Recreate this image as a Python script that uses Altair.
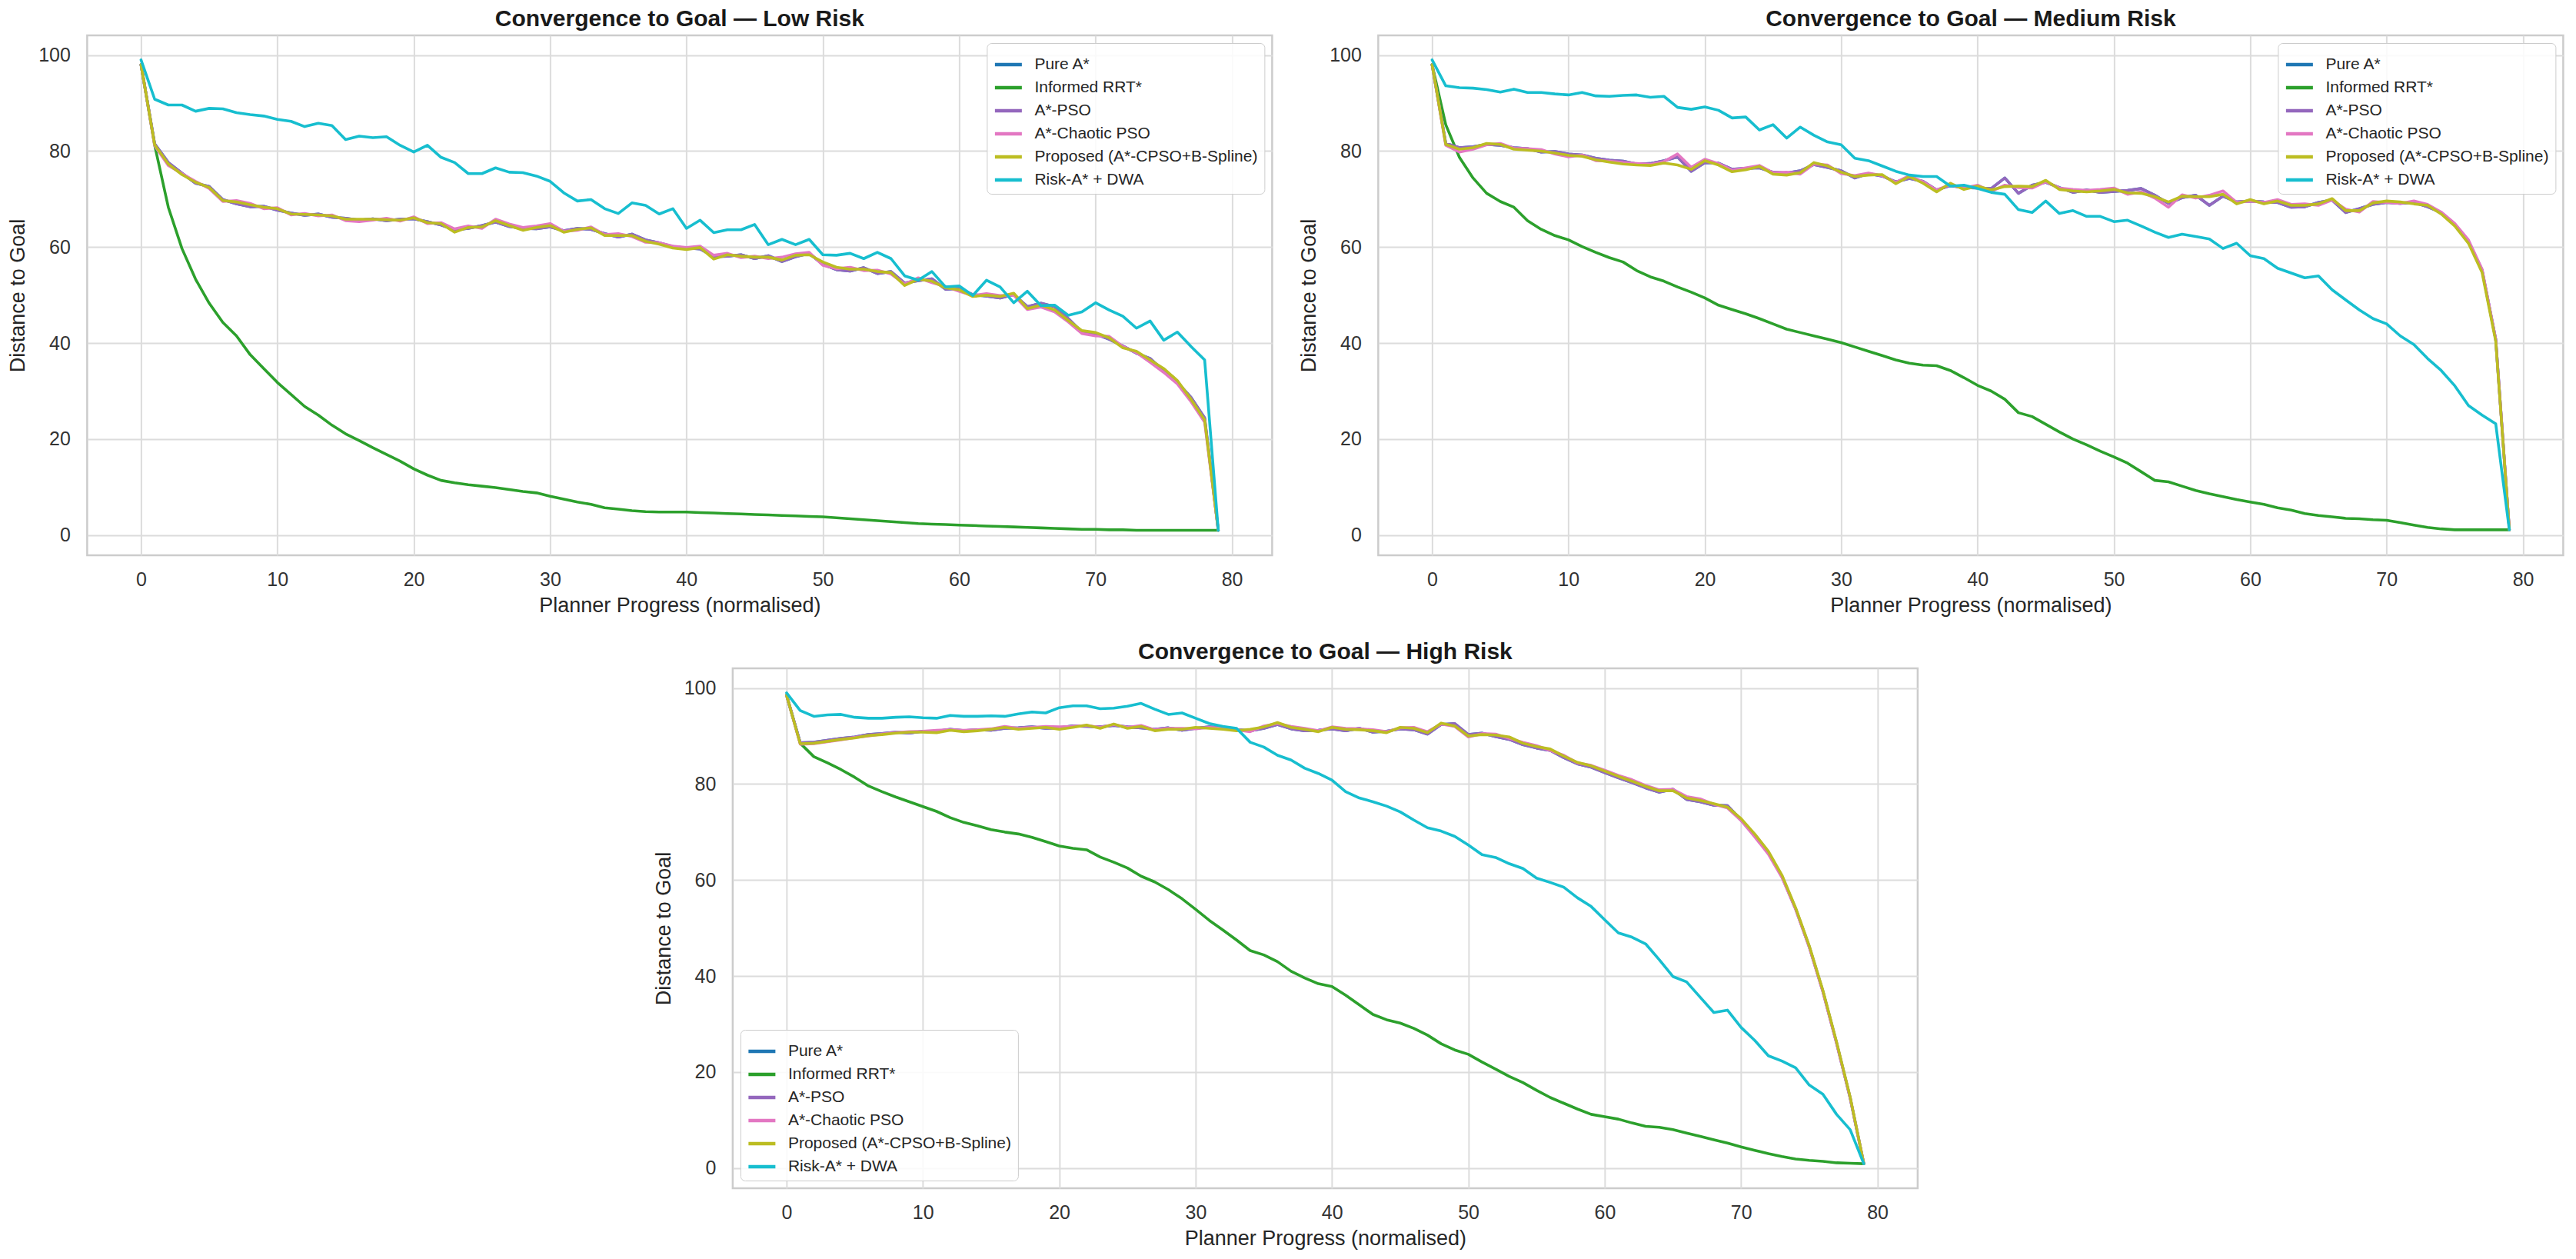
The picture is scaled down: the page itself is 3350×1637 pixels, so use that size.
import altair as alt
import pandas as pd

SERIES = ["Pure A*", "Informed RRT*", "A*-PSO", "A*-Chaotic PSO",
          "Proposed (A*-CPSO+B-Spline)", "Risk-A* + DWA"]
COLORS = ["#1f77b4", "#2ca02c", "#9467bd", "#e377c2", "#bcbd22", "#17becf"]
PROGRESS = list(range(80))
X_TICKS = [0, 10, 20, 30, 40, 50, 60, 70, 80]
Y_TICKS = [0, 20, 40, 60, 80, 100]
TITLES = ["Convergence to Goal — Low Risk", "Convergence to Goal — Medium Risk",
          "Convergence to Goal — High Risk"]

# ---------------- Low risk ----------------
low_prop = [
    98.0, 81.3, 77.3, 75.1, 73.5, 72.4, 69.7, 69.4, 68.8, 68.3,
    68.0, 66.9, 66.8, 66.7, 66.5, 65.8, 65.8, 65.8, 65.7, 65.6,
    66.1, 65.1, 64.9, 63.1, 64.1, 64.2, 65.5, 64.5, 63.5, 64.1,
    64.5, 63.1, 63.7, 64.0, 62.4, 62.4, 62.4, 61.2, 60.6, 59.8,
    59.5, 59.9, 57.5, 58.4, 58.1, 57.9, 57.9, 57.3, 58.3, 58.4,
    56.9, 55.8, 55.4, 55.4, 54.9, 54.7, 52.0, 53.3, 52.9, 51.5,
    51.1, 49.7, 50.0, 49.7, 50.4, 47.2, 47.9, 46.9, 44.7, 42.6,
    42.2, 41.1, 39.0, 38.3, 36.5, 34.7, 32.2, 28.3, 24.0, 1.0]
low_pso = [
    98.0, 81.5, 77.6, 75.4, 73.3, 72.6, 69.9, 69.0, 68.4, 68.5,
    67.7, 67.1, 66.6, 66.9, 66.2, 66.0, 65.6, 65.9, 65.5, 65.8,
    65.9, 65.3, 64.6, 63.6, 63.9, 64.5, 65.2, 64.3, 63.9, 63.8,
    64.2, 63.4, 63.9, 63.7, 62.8, 62.1, 62.7, 61.5, 60.9, 60.1,
    59.8, 59.6, 58.0, 58.1, 58.4, 57.6, 58.2, 57.0, 58.0, 58.7,
    56.4, 55.3, 55.0, 55.7, 54.5, 54.9, 52.5, 53.0, 53.4, 51.2,
    51.4, 50.1, 49.8, 49.4, 50.1, 47.6, 48.3, 47.6, 45.1, 42.3,
    41.9, 40.8, 39.4, 37.9, 36.8, 34.2, 31.8, 28.7, 24.4, 1.0]
low_cpso = [
    98.0, 81.1, 77.0, 75.3, 73.7, 72.2, 69.5, 69.7, 69.1, 68.0,
    68.2, 66.7, 67.0, 66.5, 66.7, 65.5, 65.3, 65.6, 66.0, 65.4,
    66.3, 64.9, 65.1, 63.8, 64.4, 63.9, 65.8, 64.8, 64.1, 64.4,
    64.9, 63.3, 63.5, 64.2, 62.6, 62.8, 62.2, 61.0, 60.9, 60.2,
    59.9, 60.2, 58.3, 58.7, 57.8, 58.1, 57.6, 57.9, 58.6, 58.9,
    56.2, 55.5, 55.8, 55.1, 55.2, 54.4, 52.3, 53.6, 52.6, 51.8,
    50.8, 49.9, 50.3, 49.9, 50.0, 47.0, 47.5, 46.5, 44.4, 42.0,
    41.5, 41.4, 39.3, 38.0, 36.0, 33.9, 31.5, 27.8, 23.5, 1.0]
low_risk = [
    99.0, 90.8, 89.6, 89.6, 88.3, 88.9, 88.8, 88.0, 87.6, 87.3,
    86.6, 86.2, 85.1, 85.8, 85.3, 82.4, 83.1, 82.8, 83.0, 81.2,
    79.8, 81.2, 78.7, 77.6, 75.3, 75.3, 76.5, 75.6, 75.5, 74.8,
    73.7, 71.3, 69.6, 69.9, 68.0, 67.0, 69.2, 68.7, 66.9, 68.0,
    63.9, 65.6, 63.0, 63.6, 63.6, 64.7, 60.5, 61.6, 60.5, 61.6,
    58.4, 58.3, 58.7, 57.6, 58.9, 57.6, 54.0, 53.1, 54.9, 51.7,
    51.9, 49.9, 53.1, 51.7, 48.4, 50.8, 47.8, 47.9, 45.8, 46.5,
    48.4, 46.9, 45.6, 43.1, 44.6, 40.6, 42.3, 39.3, 36.5, 1.0]
low_rrt = [
    98.0, 81.2, 68.3, 59.7, 53.3, 48.3, 44.3, 41.5, 37.6, 34.7,
    31.8, 29.3, 26.8, 25.0, 22.9, 21.1, 19.7, 18.2, 16.8, 15.4,
    13.8, 12.5, 11.4, 10.9, 10.5, 10.2, 9.9, 9.5, 9.1, 8.8,
    8.1, 7.5, 6.9, 6.4, 5.7, 5.4, 5.1, 4.9, 4.8, 4.8,
    4.8, 4.7, 4.6, 4.5, 4.4, 4.3, 4.2, 4.1, 4.0, 3.9,
    3.8, 3.6, 3.4, 3.2, 3.0, 2.8, 2.6, 2.4, 2.3, 2.2,
    2.1, 2.0, 1.9, 1.8, 1.7, 1.6, 1.5, 1.4, 1.3, 1.2,
    1.2, 1.1, 1.1, 1.0, 1.0, 1.0, 1.0, 1.0, 1.0, 1.0]
low_pure = low_pso  # hidden underneath the PSO family in the reference

# ---------------- Medium risk ----------------
med_prop = [
    98.0, 81.4, 80.4, 80.7, 81.6, 81.4, 80.4, 80.2, 80.0, 79.6,
    79.1, 78.9, 78.2, 77.7, 77.3, 77.1, 77.0, 77.5, 77.1, 76.2,
    78.0, 77.1, 75.7, 76.1, 76.8, 75.2, 75.0, 75.5, 77.6, 76.9,
    75.6, 74.7, 75.0, 75.1, 73.2, 74.7, 73.3, 71.5, 73.3, 72.0,
    72.7, 71.9, 72.6, 72.7, 72.6, 73.9, 72.0, 71.7, 71.5, 71.7,
    72.0, 71.3, 71.2, 70.5, 69.4, 70.6, 70.5, 70.5, 71.0, 69.0,
    69.9, 69.0, 69.6, 68.7, 68.7, 69.0, 70.1, 67.6, 67.6, 69.2,
    69.6, 69.4, 69.0, 68.7, 66.9, 64.4, 60.8, 54.7, 40.4, 1.1]
med_pso = [
    98.0, 81.6, 80.7, 80.9, 81.4, 81.2, 80.7, 80.5, 79.8, 79.9,
    79.4, 79.2, 78.5, 78.1, 77.9, 77.3, 77.4, 78.0, 78.8, 75.8,
    77.6, 77.5, 76.2, 76.4, 76.5, 75.6, 75.4, 75.9, 77.2, 76.6,
    75.9, 74.4, 75.3, 74.8, 73.6, 74.3, 73.7, 71.9, 72.8, 72.4,
    72.3, 72.2, 74.4, 71.2, 72.9, 73.5, 72.4, 71.4, 71.9, 71.4,
    71.6, 71.8, 72.2, 70.8, 69.1, 70.3, 70.8, 68.7, 70.6, 69.4,
    69.6, 69.4, 69.3, 68.3, 68.4, 69.3, 69.8, 67.2, 68.0, 68.9,
    69.3, 69.1, 69.3, 68.4, 67.2, 64.7, 61.2, 55.2, 40.8, 1.1]
med_cpso = [
    98.0, 81.2, 79.8, 80.4, 81.3, 81.6, 80.6, 80.5, 80.3, 79.4,
    78.8, 79.2, 78.0, 77.9, 77.6, 77.4, 77.2, 77.8, 79.4, 76.6,
    78.3, 77.4, 76.0, 76.5, 77.0, 75.5, 75.6, 75.2, 77.3, 77.1,
    75.3, 74.9, 75.4, 74.9, 73.5, 74.9, 73.6, 71.9, 73.0, 72.3,
    72.9, 71.6, 72.9, 72.4, 72.3, 73.6, 72.3, 72.0, 71.8, 72.0,
    72.3, 71.0, 71.5, 70.2, 68.3, 70.9, 70.2, 70.8, 71.7, 69.3,
    69.6, 69.3, 69.9, 68.9, 69.0, 68.7, 69.8, 67.9, 67.3, 69.5,
    69.3, 69.1, 69.6, 68.9, 67.3, 64.9, 61.5, 55.4, 40.8, 1.1]
med_risk = [
    99.0, 93.6, 93.2, 93.1, 92.8, 92.3, 92.9, 92.2, 92.2, 91.9,
    91.7, 92.2, 91.5, 91.4, 91.6, 91.7, 91.2, 91.4, 89.1, 88.7,
    89.2, 88.5, 86.9, 87.1, 84.4, 85.5, 82.7, 85.0, 83.3, 81.9,
    81.3, 78.5, 78.0, 76.9, 75.8, 75.0, 74.7, 74.7, 72.7, 72.9,
    72.2, 71.4, 71.0, 67.8, 67.2, 69.6, 67.0, 67.6, 66.4, 66.4,
    65.3, 65.6, 64.4, 63.1, 62.0, 62.7, 62.2, 61.7, 59.7, 60.8,
    58.2, 57.6, 55.6, 54.6, 53.6, 54.0, 51.1, 49.0, 46.9, 45.1,
    44.0, 41.5, 39.7, 36.8, 34.3, 31.1, 27.0, 25.0, 23.2, 1.1]
med_rrt = [
    98.0, 85.5, 78.7, 74.4, 71.2, 69.5, 68.3, 65.5, 63.7, 62.4,
    61.5, 60.1, 58.9, 57.8, 56.9, 55.1, 53.8, 52.9, 51.7, 50.6,
    49.4, 47.9, 47.0, 46.1, 45.1, 44.0, 42.9, 42.2, 41.5, 40.8,
    40.1, 39.2, 38.3, 37.4, 36.5, 35.8, 35.4, 35.3, 34.3, 32.8,
    31.2, 30.0, 28.3, 25.5, 24.7, 23.1, 21.5, 20.0, 18.8, 17.5,
    16.3, 15.0, 13.2, 11.4, 11.1, 10.2, 9.3, 8.6, 8.0, 7.4,
    6.9, 6.4, 5.7, 5.2, 4.5, 4.1, 3.8, 3.5, 3.4, 3.2,
    3.1, 2.6, 2.1, 1.6, 1.3, 1.1, 1.1, 1.1, 1.1, 1.1]
med_pure = med_pso

# ---------------- High risk ----------------
high_prop = [
    98.5, 88.4, 88.5, 88.9, 89.3, 89.6, 90.1, 90.3, 90.6, 90.8,
    90.8, 90.7, 91.2, 90.9, 91.1, 91.4, 91.8, 91.4, 91.6, 91.8,
    91.4, 91.8, 92.3, 91.6, 92.5, 91.6, 92.0, 91.1, 91.4, 91.4,
    91.8, 91.6, 91.4, 91.1, 91.4, 91.9, 92.8, 91.8, 91.4, 90.9,
    91.8, 91.4, 91.3, 91.1, 90.7, 91.8, 91.6, 90.7, 92.7, 92.1,
    90.0, 90.3, 90.2, 89.8, 88.5, 87.8, 87.3, 85.8, 84.5, 83.8,
    82.7, 81.6, 80.6, 79.5, 78.6, 78.6, 77.1, 76.6, 75.9, 75.2,
    72.8, 69.6, 66.0, 61.0, 54.2, 46.3, 37.0, 26.3, 14.8, 0.9]
high_pso = [
    98.5, 88.6, 88.7, 89.1, 89.5, 89.8, 90.3, 90.5, 90.8, 90.6,
    91.0, 91.0, 91.4, 91.1, 91.3, 91.2, 91.6, 91.7, 91.9, 91.6,
    91.7, 92.1, 92.0, 91.9, 92.2, 91.9, 91.7, 91.4, 91.7, 91.2,
    91.6, 91.9, 91.7, 91.3, 91.1, 91.6, 92.4, 91.5, 91.1, 91.2,
    91.5, 91.1, 91.6, 90.8, 91.0, 91.5, 91.3, 90.4, 92.4, 92.6,
    90.3, 90.6, 89.9, 89.3, 88.2, 87.5, 87.0, 85.5, 84.2, 83.5,
    82.4, 81.3, 80.3, 79.2, 78.3, 78.9, 76.8, 76.3, 75.6, 75.5,
    72.5, 69.3, 65.7, 60.7, 54.0, 46.1, 36.8, 26.1, 14.6, 0.9]
high_cpso = [
    98.5, 88.3, 88.4, 88.8, 89.2, 89.7, 90.0, 90.4, 90.7, 90.9,
    91.0, 91.2, 91.3, 91.2, 91.3, 91.5, 92.0, 91.6, 91.8, 92.0,
    91.9, 92.0, 92.2, 91.8, 92.4, 91.8, 92.2, 91.3, 91.6, 91.6,
    91.5, 91.8, 91.6, 91.3, 90.9, 92.1, 92.6, 92.0, 91.6, 91.1,
    91.9, 91.6, 91.5, 91.3, 90.9, 91.7, 91.8, 90.9, 92.5, 92.0,
    89.8, 90.5, 90.4, 89.5, 88.7, 88.0, 87.0, 86.0, 84.4, 83.9,
    82.9, 81.8, 80.9, 79.7, 78.8, 78.9, 77.4, 76.9, 75.8, 75.0,
    72.4, 69.0, 65.4, 60.5, 53.9, 46.0, 36.7, 26.0, 14.6, 0.9]
high_risk = [
    99.0, 95.3, 94.1, 94.4, 94.5, 93.9, 93.7, 93.7, 93.9, 94.0,
    93.8, 93.7, 94.3, 94.1, 94.1, 94.2, 94.1, 94.6, 95.0, 94.8,
    95.9, 96.3, 96.3, 95.7, 95.8, 96.2, 96.8, 95.6, 94.5, 94.8,
    93.7, 92.6, 92.0, 91.6, 88.7, 87.7, 86.0, 85.0, 83.3, 82.2,
    80.8, 78.4, 77.1, 76.3, 75.4, 74.2, 72.5, 70.9, 70.2, 69.1,
    67.3, 65.3, 64.7, 63.4, 62.4, 60.4, 59.5, 58.5, 56.3, 54.5,
    51.7, 49.0, 48.1, 46.7, 43.4, 39.9, 38.8, 35.6, 32.4, 32.9,
    29.3, 26.6, 23.4, 22.3, 20.9, 17.3, 15.4, 11.2, 8.0, 0.9]
high_rrt = [
    98.5, 88.5, 85.7, 84.4, 83.0, 81.4, 79.6, 78.4, 77.3, 76.3,
    75.3, 74.3, 73.0, 72.0, 71.3, 70.5, 70.0, 69.6, 68.9, 68.0,
    67.1, 66.6, 66.3, 64.8, 63.7, 62.5, 60.8, 59.6, 58.0, 56.1,
    53.9, 51.6, 49.6, 47.5, 45.3, 44.4, 43.0, 41.0, 39.6, 38.4,
    37.8, 36.0, 34.0, 32.0, 30.9, 30.2, 29.1, 27.7, 25.9, 24.6,
    23.7, 22.1, 20.6, 19.1, 17.8, 16.2, 14.7, 13.5, 12.3, 11.2,
    10.7, 10.2, 9.4, 8.7, 8.5, 8.0, 7.3, 6.6, 5.9, 5.2,
    4.4, 3.7, 3.0, 2.4, 1.9, 1.6, 1.4, 1.1, 1.0, 0.9]
high_pure = high_pso

FONT = "Liberation Sans"
PANEL_W = 1541
PANEL_H = 676


def panel(title, series_values, legend_orient):
    rows = []
    for name, vals in zip(SERIES, series_values):
        for x, v in zip(PROGRESS, vals):
            rows.append({"progress": x, "distance": v, "series": name})
    df = pd.DataFrame(rows)
    color = alt.Color(
        "series:N",
        scale=alt.Scale(domain=SERIES, range=COLORS),
        legend=alt.Legend(title=None, orient=legend_orient, offset=10),
    )
    x = alt.X("progress:Q",
              scale=alt.Scale(domain=[-3.95, 82.95], nice=False, zero=False),
              axis=alt.Axis(values=X_TICKS, format="d",
                            title="Planner Progress (normalised)"))
    y = alt.Y("distance:Q",
              scale=alt.Scale(domain=[-4.2, 104.1], nice=False, zero=False),
              axis=alt.Axis(values=Y_TICKS, format="d", title="Distance to Goal"))
    layers = []
    for name in SERIES:
        layers.append(
            alt.Chart(df)
            .transform_filter(alt.FieldEqualPredicate(field="series", equal=name))
            .mark_line(strokeWidth=3.6, strokeJoin="round", strokeCap="round")
            .encode(x=x, y=y, color=color)
        )
    return alt.layer(*layers).properties(
        width=PANEL_W, height=PANEL_H,
        title=alt.TitleParams(title, anchor="middle"),
    )


p_low = panel(TITLES[0], [low_pure, low_rrt, low_pso, low_cpso, low_prop, low_risk], "top-right")
p_med = panel(TITLES[1], [med_pure, med_rrt, med_pso, med_cpso, med_prop, med_risk], "top-right")
p_high = panel(TITLES[2], [high_pure, high_rrt, high_pso, high_cpso, high_prop, high_risk], "bottom-left")

top = (alt.hconcat(p_low, p_med, spacing=31)
       .resolve_scale(color="independent")
       .resolve_legend(color="independent"))

chart = (
    alt.vconcat(top, p_high, spacing=29, center=True)
    .resolve_scale(color="independent")
    .resolve_legend(color="independent")
    .properties(padding=0, background="white")
    .configure(font=FONT)
    .configure_view(stroke="#cccccc", strokeWidth=2.5)
    .configure_axis(
        grid=True, gridColor="#dcdcdc", gridWidth=2,
        domain=False, ticks=False, tickSize=0,
        labelFont=FONT, labelFontSize=25, labelColor="#333333",
        titleFont=FONT, titleFontSize=27, titleFontWeight="normal",
        titleColor="#262626",
    )
    .configure_axisX(labelPadding=19, titlePadding=8)
    .configure_axisY(labelPadding=22, titlePadding=12)
    .configure_title(font=FONT, fontSize=30, fontWeight="bold",
                     color="#1a1a1a", offset=6)
    .configure_legend(
        labelFont=FONT, labelFontSize=21, labelColor="#262626", labelLimit=0,
        symbolType="stroke", symbolStrokeWidth=4.5, symbolSize=1225,
        strokeColor="#cccccc", fillColor="rgba(255,255,255,0.85)",
        cornerRadius=6, padding=8, rowPadding=0, labelOffset=14,
    )
)

chart.save("out.html", embed_options={"renderer": "svg", "actions": False})
